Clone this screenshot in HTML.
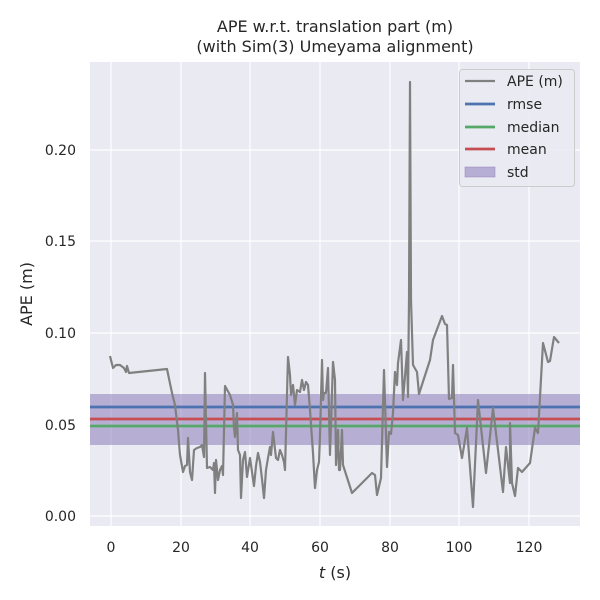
<!DOCTYPE html>
<html><head><meta charset="utf-8"><style>body{margin:0;background:#fff}svg{display:block;font-family:"DejaVu Sans","Liberation Sans",sans-serif}</style></head><body>
<svg width="600" height="600" viewBox="0 0 600 600">
<rect x="90" y="62" width="490" height="464" fill="#eaeaf2"/>
<g stroke="#fff" stroke-width="1.2">
<line x1="111" y1="62" x2="111" y2="526"/><line x1="181" y1="62" x2="181" y2="526"/><line x1="250" y1="62" x2="250" y2="526"/><line x1="320" y1="62" x2="320" y2="526"/><line x1="390" y1="62" x2="390" y2="526"/><line x1="459" y1="62" x2="459" y2="526"/><line x1="529" y1="62" x2="529" y2="526"/>
<line x1="90" y1="516" x2="580" y2="516"/><line x1="90" y1="425" x2="580" y2="425"/><line x1="90" y1="333" x2="580" y2="333"/><line x1="90" y1="241" x2="580" y2="241"/><line x1="90" y1="150" x2="580" y2="150"/>
</g>
<rect x="90" y="394" width="490" height="51" fill="#8172b3" fill-opacity="0.5"/>
<line x1="90" y1="407" x2="580" y2="407" stroke="#4c72b0" stroke-width="2.8"/>
<line x1="90" y1="419" x2="580" y2="419" stroke="#c44e52" stroke-width="2.8"/>
<line x1="90" y1="426" x2="580" y2="426" stroke="#55a868" stroke-width="2.8"/>
<polyline fill="none" stroke="#808080" stroke-width="2.2" stroke-linejoin="round" points="110,356 113,368 116,365 120,365 124,368 126,372 127,366 129,373 167,369 172,393 175,405 178,430 180,455 183,472 185,466 187,465 188,438 190,472 192,480 194,450 197,448 200,447 202,445 204,457 205,373 207,468 210,467 213,470 214,463 215,493 216,460 218,480 220,470 222,466 223,475 225,386 230,395 233,405 234,428 235,437 237,413 238,450 240,455 241,498 243,460 245,452 247,477 250,458 254,486 256,466 258,453 260,462 262,479 264,498 266,470 268,458 270,447 271,455 273,432 276,458 278,460 280,450 282,455 284,462 285,470 288,357 290,375 291,395 293,385 295,405 297,390 300,392 302,380 304,390 306,382 308,385 310,410 313,453 315,488 317,470 319,462 320,435 322,360 323,400 324,393 326,393 328,368 330,455 333,362 335,380 336,465 338,430 339,470 340,470 342,430 343,465 352,493 372,473 375,475 377,495 381,478 384,370 387,467 389,432 391,434 393,413 395,372 397,385 398,363 401,340 403,400 407,352 408,397 409,300 410,82 411,300 413,365 417,372 419,394 430,360 433,340 442,316 445,324 447,325 449,399 452,398 453,365 455,433 458,435 462,458 467,428 473,507 478,400 486,473 493,408 503,492 506,447 510,483 510,423 512,483 515,496 518,468 522,472 530,463 535,428 538,433 543,343 548,362 550,361 554,337 559,343"/>
<g fill="#262626" font-size="14" text-anchor="end">
<text x="76" y="521">0.00</text><text x="76" y="430">0.05</text><text x="76" y="338">0.10</text><text x="76" y="246">0.15</text><text x="76" y="155">0.20</text>
</g>
<g fill="#262626" font-size="14" text-anchor="middle">
<text x="111" y="552">0</text><text x="181" y="552">20</text><text x="250" y="552">40</text><text x="320" y="552">60</text><text x="390" y="552">80</text><text x="459" y="552">100</text><text x="529" y="552">120</text>
<text x="335" y="578" font-size="16"><tspan font-style="italic">t</tspan> (s)</text>
<text x="335" y="32" font-size="16">APE w.r.t. translation part (m)</text>
<text x="335" y="52" font-size="16">(with Sim(3) Umeyama alignment)</text>
<text transform="translate(32,294) rotate(-90)" font-size="16">APE (m)</text>
</g>
<rect x="459.5" y="69.5" width="115" height="117" rx="3" fill="#eaeaf2" fill-opacity="0.8" stroke="#ccc"/>
<line x1="465" y1="81" x2="495" y2="81" stroke="#808080" stroke-width="2.2"/>
<line x1="465" y1="104" x2="495" y2="104" stroke="#4c72b0" stroke-width="2.8"/>
<line x1="465" y1="127" x2="495" y2="127" stroke="#55a868" stroke-width="2.8"/>
<line x1="465" y1="149" x2="495" y2="149" stroke="#c44e52" stroke-width="2.8"/>
<rect x="465" y="167" width="30" height="10" fill="#8172b3" fill-opacity="0.5" stroke="#8172b3" stroke-opacity="0.4"/>
<g fill="#262626" font-size="14">
<text x="507" y="86">APE (m)</text><text x="507" y="109">rmse</text><text x="507" y="132">median</text><text x="507" y="154">mean</text><text x="507" y="177">std</text>
</g>
</svg>
</body></html>
